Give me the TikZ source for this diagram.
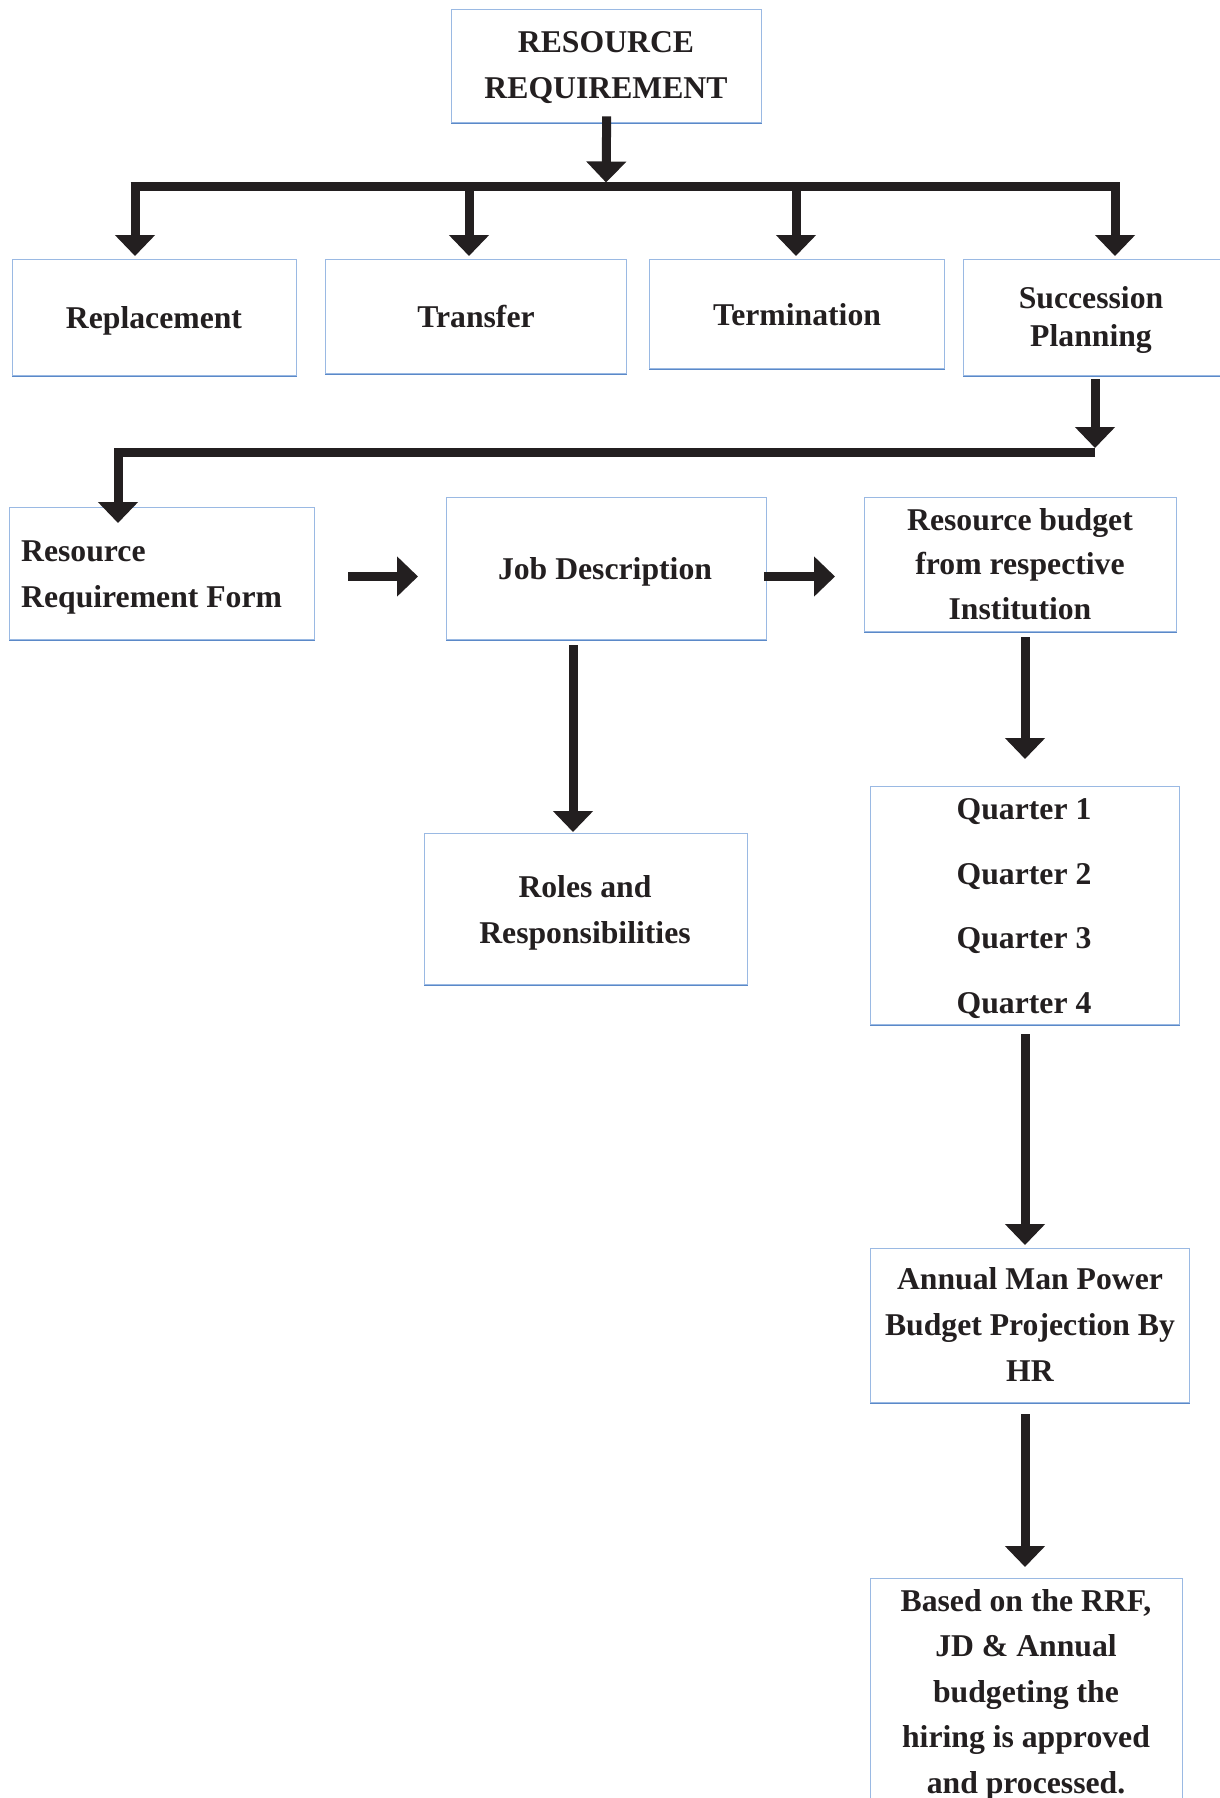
\documentclass[tikz,border=0pt]{standalone}
\usepackage{fontspec}
\setmainfont{Liberation Serif}
\usetikzlibrary{arrows.meta}
\definecolor{ink}{HTML}{231F20}
\definecolor{edgelight}{HTML}{9AB9E3}
\definecolor{edgedark}{HTML}{5B89C8}

\begin{document}
\begin{tikzpicture}[x=1pt,y=-1pt,
  box/.style={draw=edgelight, line width=1.4pt, inner sep=0pt, anchor=north west},
  bottomedge/.style={draw=edgedark, line width=1.4pt},
  % labels are placed by the baseline of their last line
  lbl/.style={font=\fontsize{31.7}{#1}\selectfont\bfseries, text=ink, align=center, anchor=base, inner sep=0pt},
  lbl/.default=46,
  arrow/.style={draw=ink, line width=9pt, line join=miter, -{Triangle[length=21pt,width=39pt]}},
  bus/.style={draw=ink, line width=9pt}]

\useasboundingbox (0,0) rectangle (1219,1798);

% boxes
\node[box, minimum width=310pt, minimum height=113pt] (top)   at (451,9)   {};
\node[box, minimum width=284pt, minimum height=116pt] (repl)  at (12,259)  {};
\node[box, minimum width=301pt, minimum height=114pt] (trans) at (325,259) {};
\node[box, minimum width=295pt, minimum height=109pt] (term)  at (649,259) {};
\node[box, minimum width=258pt, minimum height=116pt] (succ)  at (963,259) {};
\node[box, minimum width=305pt, minimum height=132pt] (rrf)   at (9,507)   {};
\node[box, minimum width=320pt, minimum height=142pt] (jd)    at (446,497) {};
\node[box, minimum width=312pt, minimum height=134pt] (bud)   at (864,497) {};
\node[box, minimum width=323pt, minimum height=151pt] (roles) at (424,833) {};
\node[box, minimum width=309pt, minimum height=238pt] (qtr)   at (870,786) {};
\node[box, minimum width=319pt, minimum height=154pt] (ann)   at (870,1248) {};
\node[box, minimum width=312pt, minimum height=240pt] (fin)   at (870,1578) {};

\foreach \n in {top,repl,trans,term,succ,rrf,jd,bud,roles,qtr,ann}
  \draw[bottomedge] (\n.south west) -- (\n.south east);

% labels
\node[lbl] (topT)   at (606,99)  {RESOURCE\\REQUIREMENT};
\node[lbl] (replT)  at (154,328) {Replacement};
\node[lbl] (transT) at (476,327) {Transfer};
\node[lbl] (termT)  at (797,325) {Termination};
\node[lbl=38.5] (succT) at (1091,346.5) {Succession\\Planning};
\node[lbl, align=left, anchor=base west] (rrfT) at (21,607) {Resource\\Requirement Form};
\node[lbl] (jdT)    at (605,579.5) {Job Description};
\node[lbl=44.5] (budT) at (1020,619) {Resource budget\\from respective\\Institution};
\node[lbl] (rolesT) at (585,943) {Roles and\\Responsibilities};
\node[lbl=64.7] (qT) at (1024,1013.5) {Quarter 1\\Quarter 2\\Quarter 3\\Quarter 4};
\node[lbl] (annT)   at (1030,1381.5) {Annual Man Power\\Budget Projection By\\HR};
\node[lbl=45.6] (finT) at (1026,1793.5) {Based on the RRF,\\JD \& Annual\\budgeting the\\hiring is approved\\and processed.};

% junction points
\coordinate (bus1) at (606,187);
\coordinate (d1) at (135,187);
\coordinate (d2) at (469,187);
\coordinate (d3) at (796,187);
\coordinate (d4) at (1115,187);
\coordinate (bus2) at (1095,452.5);
\coordinate (rrfin) at (118,523);
\coordinate (row) at (0,576.5);
\coordinate (col2) at (573,0);
\coordinate (col3) at (1025,0);

% first level
\draw[arrow, shorten >=4.5pt] ([yshift=7pt]top.south) -- (bus1);
\draw[bus] (130.5,187) -- (1119.5,187);
\draw[arrow, shorten >=3pt] (d1) -- (d1 |- repl.north);
\draw[arrow, shorten >=3pt] (d2) -- (d2 |- trans.north);
\draw[arrow, shorten >=3pt] (d3) -- (d3 |- term.north);
\draw[arrow, shorten >=3pt] (d4) -- (d4 |- succ.north);

% second level
\draw[arrow, shorten <=3pt, shorten >=4.5pt] (bus2 |- succ.south) -- (bus2);
\draw[arrow] (bus2) -| (rrfin);

% third level
\draw[arrow, shorten <=33pt, shorten >=28pt] (rrf.east |- row) -- (jd.west |- row);
\draw[arrow, shorten <=-3pt, shorten >=29pt] (jd.east |- row) -- (bud.west |- row);
\draw[arrow, shorten <=5pt, shorten >=1pt] (jd.south -| col2) -- (roles.north -| col2);
\draw[arrow, shorten <=5pt, shorten >=27pt] (bud.south -| col3) -- (qtr.north -| col3);
\draw[arrow, shorten <=9pt, shorten >=3pt] (qtr.south -| col3) -- (ann.north -| col3);
\draw[arrow, shorten <=11pt, shorten >=11pt] (ann.south -| col3) -- (fin.north -| col3);

\end{tikzpicture}
\end{document}
